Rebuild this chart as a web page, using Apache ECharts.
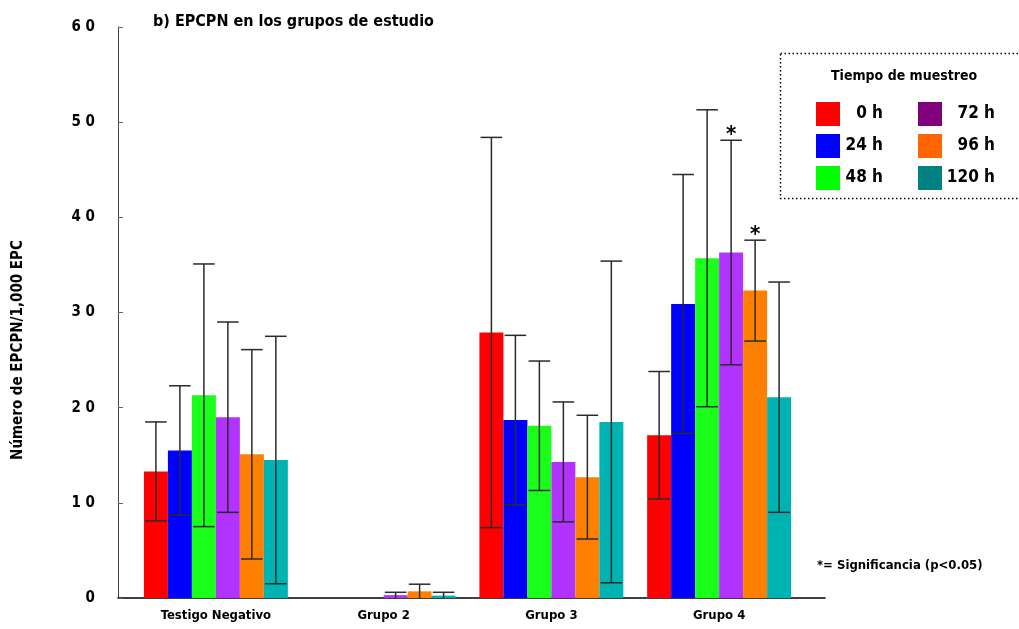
<!DOCTYPE html>
<html>
<head>
<meta charset="utf-8">
<script src="https://cdn.jsdelivr.net/npm/echarts@6/dist/echarts.min.js"></script>
<style>
    html, body { margin: 0; padding: 0; background: #fff; }
    #chart { width: 1019px; height: 629px; }
</style>
</head>
<body>
<div id="chart"></div>
<script>
    // datos (media y error por tiempo de muestreo)
    const categories = ['Testigo Negativo', 'Grupo 2', 'Grupo 3', 'Grupo 4'];
    const seriesNames = ['0 h', '24 h', '48 h', '72 h', '96 h', '120 h'];
    const yTicks = [0, 10, 20, 30, 40, 50, 60];

    const mean0h = [13.3, 0, 27.9, 17.1];
    const mean24h = [15.5, 0, 18.7, 30.9];
    const mean48h = [21.3, 0, 18.1, 35.7];
    const mean72h = [19.0, 0.3, 14.3, 36.3];
    const mean96h = [15.1, 0.7, 12.7, 32.3];
    const mean120h = [14.5, 0.25, 18.5, 21.1];

    const err0h = [5.2, 0, 20.5, 6.7];
    const err24h = [6.8, 0, 8.9, 13.6];
    const err48h = [13.8, 0, 6.8, 15.6];
    const err72h = [10.0, 0.3, 6.3, 11.8];
    const err96h = [11.0, 0.75, 6.5, 5.3];
    const err120h = [13.0, 0.35, 16.9, 12.1];

    // significancia (*) por serie y grupo
    const sig72h = [0, 0, 0, 1];
    const sig96h = [0, 0, 0, 1];

    const means = [mean0h, mean24h, mean48h, mean72h, mean96h, mean120h];
    const errs = [err0h, err24h, err48h, err72h, err96h, err120h];
    const sigs = [[0, 0, 0, 0], [0, 0, 0, 0], [0, 0, 0, 0], sig72h, sig96h, [0, 0, 0, 0]];

    const barColors = ['#ff0000', '#0000ff', '#1aff1a', '#b233ff', '#ff8000', '#00b3b3'];
    const legendColors = ['#ff0000', '#0000ff', '#00ff00', '#800080', '#ff6600', '#008080'];

    const font = "'Liberation Sans Narrow', 'DejaVu Sans Condensed', sans-serif";
    const gapRatio = 0.142;

    let errData = [];
    means.forEach((m, s) => {
        m.forEach((v, c) => {
            if (errs[s][c] > 0) {
                errData.push([c, s, Math.max(0, v - errs[s][c]), v + errs[s][c], sigs[s][c]]);
            }
        });
    });

    function renderErr(params, api) {
        let c = api.value(0), s = api.value(1);
        let band = api.size([1, 0])[0];
        let w = band * (1 - gapRatio) / 6;
        let x = api.coord([c, 0])[0] + (s - 2.5) * w;
        let lo = api.coord([c, api.value(2)])[1];
        let hi = api.coord([c, api.value(3)])[1];
        let cap = w * 0.45;
        let st = { stroke: '#2a2a2a', lineWidth: 1.5 };
        let children = [
            { type: 'line', shape: { x1: x, y1: lo, x2: x, y2: hi }, style: st },
            { type: 'line', shape: { x1: x - cap, y1: hi, x2: x + cap, y2: hi }, style: st }
        ];
        if (api.value(2) > 0) {
            children.push({ type: 'line', shape: { x1: x - cap, y1: lo, x2: x + cap, y2: lo }, style: st });
        }
        if (api.value(4)) {
            children.push({
                type: 'text',
                style: {
                    text: '*', x: x, y: hi + 6, align: 'center', verticalAlign: 'bottom',
                    font: 'bold 22px ' + font, fill: '#000'
                }
            });
        }
        return { type: 'group', children: children };
    }

    let series = seriesNames.map((name, s) => ({
        name: name,
        type: 'bar',
        xAxisIndex: 1,
        yAxisIndex: 1,
        data: means[s],
        barGap: '0%',
        barCategoryGap: (gapRatio * 100) + '%',
        itemStyle: { color: barColors[s] },
        silent: true
    }));
    series.push({
        type: 'custom',
        xAxisIndex: 1,
        yAxisIndex: 1,
        data: errData,
        renderItem: renderErr,
        encode: { x: 0, y: [2, 3] },
        z: 5,
        silent: true
    });

    function legendCol(names, offset, left, labelWidth) {
        return {
            data: names.map((n, i) => ({ name: n, itemStyle: { color: legendColors[i + offset] } })),
            orient: 'vertical', left: left, top: 97,
            itemWidth: 24, itemHeight: 24, itemGap: 8,
            icon: 'rect', selectedMode: false,
            formatter: n => '{a|' + n + '}',
            textStyle: {
                rich: {
                    a: {
                        width: labelWidth, align: 'right',
                        fontFamily: font, fontWeight: 'bold', fontSize: 17, color: '#000'
                    }
                }
            }
        };
    }

    let chartDom = document.getElementById('chart');
    let myChart = echarts.init(chartDom);
    let option = {
        animation: false,
        title: [
            {
                text: 'b) EPCPN en los grupos de estudio',
                left: 148, top: 9,
                textStyle: { fontFamily: font, fontWeight: 'bold', fontSize: 16, color: '#000' }
            },
            {
                text: 'Tiempo de muestreo',
                left: 826, top: 64,
                textStyle: { fontFamily: font, fontWeight: 'bold', fontSize: 14, color: '#000' }
            },
            {
                text: '*= Significancia (p<0.05)',
                left: 812, top: 554,
                textStyle: { fontFamily: font, fontWeight: 'bold', fontSize: 13, color: '#000' }
            }
        ],
        legend: [
            legendCol(seriesNames.slice(0, 3), 0, 811, 38),
            legendCol(seriesNames.slice(3), 3, 913, 48)
        ],
        graphic: [
            {
                type: 'rect',
                shape: { x: 780.5, y: 53.5, width: 250, height: 145 },
                style: { fill: 'none', stroke: '#000', lineWidth: 1.5, lineDash: [1.5, 2.5] },
                silent: true
            },
            {
                type: 'text',
                x: 18, y: 350, rotation: Math.PI / 2,
                style: {
                    text: 'Número de EPCPN/1,000 EPC', align: 'center', verticalAlign: 'middle',
                    font: 'bold 15px ' + font, fill: '#000'
                },
                silent: true
            }
        ],
        grid: [
            { left: 118, right: 194, top: 27, bottom: 31 },
            { left: 132, right: 216, top: 27, bottom: 31 }
        ],
        xAxis: [
            {
                gridIndex: 0, type: 'value', min: 0, max: 1,
                axisLine: { show: true, lineStyle: { color: '#000', width: 1.5 } },
                axisTick: { show: false }, axisLabel: { show: false }, splitLine: { show: false }
            },
            {
                gridIndex: 1, type: 'category', data: categories,
                axisLine: { show: false }, axisTick: { show: false },
                axisLabel: { margin: 11, fontFamily: font, fontWeight: 'bold', fontSize: 13, color: '#000' }
            }
        ],
        yAxis: [
            {
                gridIndex: 0, type: 'value', min: 0, max: 60, interval: 10,
                axisLine: { show: true, lineStyle: { color: '#444', width: 1 } },
                axisTick: { show: true, inside: true, length: 5, lineStyle: { color: '#666' } },
                splitLine: { show: false },
                axisLabel: {
                    margin: 23, fontFamily: font, fontWeight: 'bold', fontSize: 15, color: '#000',
                    formatter: v => yTicks.indexOf(v) >= 0 ? String(v).split('').join(' ') : ''
                }
            },
            {
                gridIndex: 1, type: 'value', min: 0, max: 60, interval: 10,
                show: false
            }
        ],
        series: series
    };
    myChart.setOption(option);
</script>
</body>
</html>
